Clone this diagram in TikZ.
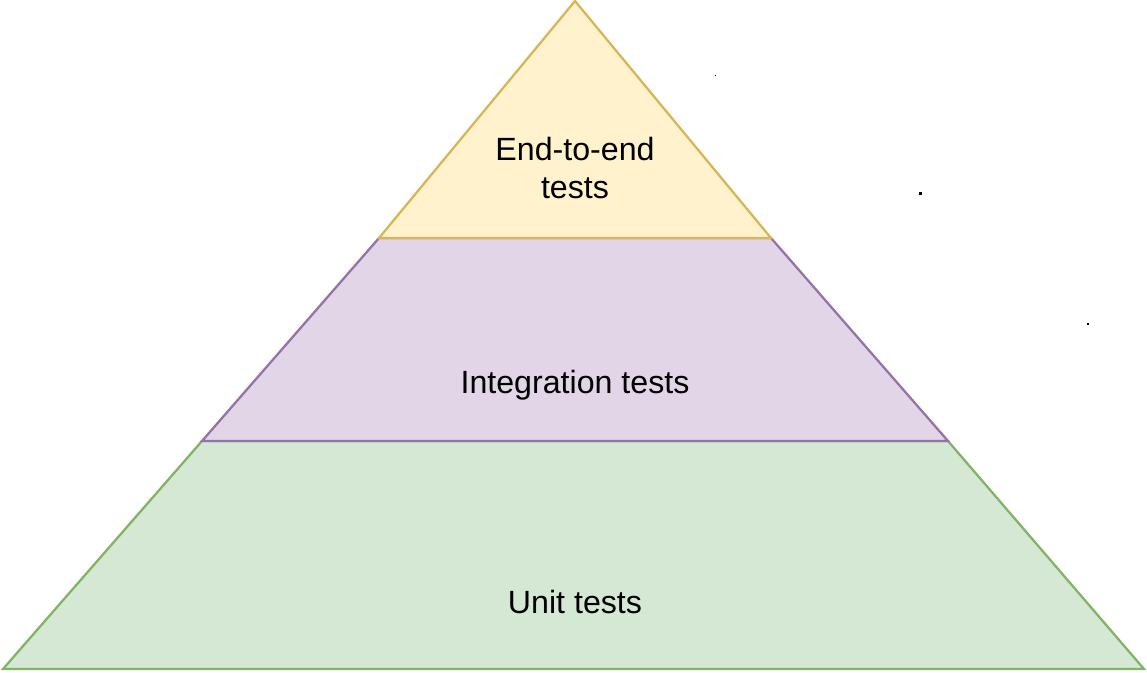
\documentclass[tikz,border=0pt]{standalone}
\usepackage{fontspec}
\setmainfont{Liberation Sans}
\usepackage{tikz}
\usetikzlibrary{positioning, calc}
\definecolor{e2efill}{HTML}{FFF2CC}
\definecolor{e2edraw}{HTML}{D6B656}
\definecolor{intfill}{HTML}{E1D5E7}
\definecolor{intdraw}{HTML}{9673A6}
\definecolor{unitfill}{HTML}{D5E8D4}
\definecolor{unitdraw}{HTML}{82B366}

\begin{document}
\begin{tikzpicture}[x=0.02cm, y=-0.02cm,
        every node/.style={font=\fontsize{18.3}{21.6}\selectfont, inner sep=0pt},
        layer/.style={line width=1.3pt, line join=miter},
        lbl/.style={align=center, text=black},
        speck/.style={fill=black, draw=none}]
      \useasboundingbox (0,0) rectangle (1147,673);
      % corners of the pyramid
      \coordinate (apex) at (575,1);
      \coordinate (tl) at (379,238);
      \coordinate (tr) at (771,238);
      \coordinate (ml) at (202,441);
      \coordinate (mr) at (948,441);
      \coordinate (bl) at (3,669);
      \coordinate (br) at (1144,669);
      % layers
      \draw[layer, fill=unitfill, draw=unitdraw] (ml)--(mr)--(br)--(bl)--cycle;
      \draw[layer, fill=intfill, draw=intdraw] (tl)--(tr)--(mr)--(ml)--cycle;
      \draw[layer, fill=e2efill, draw=e2edraw] (apex)--(tr)--(tl)--cycle;
      % labels
      \node[lbl] (e2e) at (575,168) {End-to-end\\tests};
      \node[lbl] (integ) at (575,385) {Integration tests};
      \node[lbl] (unit) at (575,602) {Unit tests};
      % stray dots
      \fill[speck] (714.5,74.5) rectangle (716,76);
      \fill[speck] (918.5,192) rectangle (922,194.5);
      \fill[speck] (1087,323) rectangle (1088.5,325);
    \end{tikzpicture}
\end{document}
